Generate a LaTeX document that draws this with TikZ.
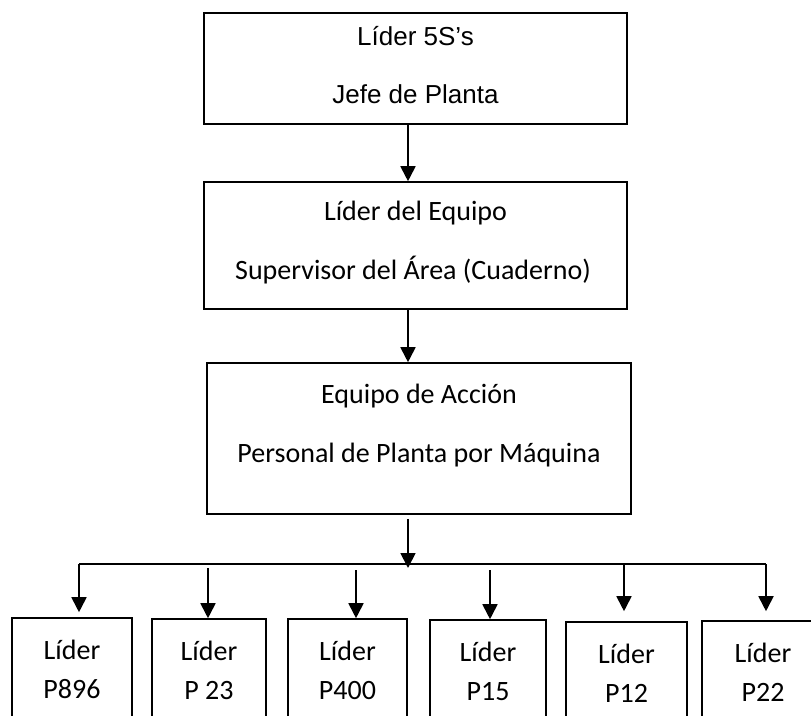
\documentclass[tikz,border=0pt]{standalone}
\usepackage{fontspec}
\newfontfamily\arialf{Liberation Sans}
\newfontfamily\calf{Carlito}
\usetikzlibrary{arrows.meta,calc}
\begin{document}
\begin{tikzpicture}[x=1pt,y=-1pt,
  chartbox/.style={draw, line width=1.6pt, inner sep=0pt, rectangle},
  arialtxt/.style={anchor=base, inner sep=0pt, font=\arialf\fontsize{26}{30}\selectfont},
  caltxt/.style={anchor=base, inner sep=0pt, font=\calf\fontsize{28}{32}\selectfont},
  wire/.style={line width=1.8pt},
  arr/.style={wire, -{Triangle[length=15pt,width=15pt]}}
]
\useasboundingbox (0,0) rectangle (811,715);

% --- main chain of command ---
\node[chartbox, minimum width=423pt, minimum height=111pt] (jefe) at (415.5,68.5) {};
\node[arialtxt] (jefeA) at (415.5,45) {Líder 5S’s};
\node[arialtxt] (jefeB) at (415.5,103) {Jefe de Planta};

\node[chartbox, minimum width=423pt, minimum height=127pt] (sup) at (415.5,245.5) {};
\node[caltxt] (supA) at (415.5,220) {Líder del Equipo};
\node[caltxt] (supB) at (413,279) {Supervisor del Área (Cuaderno)};

\node[chartbox, minimum width=424pt, minimum height=151pt] (acc) at (419,438.5) {};
\node[caltxt] (accA) at (419,403) {Equipo de Acción};
\node[caltxt] (accB) at (419,462) {Personal de Planta por Máquina};

% --- machine leaders ---
\node[chartbox, minimum width=120pt, minimum height=142pt] (m1) at (72,689) {};
\node[chartbox, minimum width=114pt, minimum height=142pt] (m2) at (209,690) {};
\node[chartbox, minimum width=119pt, minimum height=142pt] (m3) at (347.5,690) {};
\node[chartbox, minimum width=116pt, minimum height=142pt] (m4) at (488,691) {};
\node[chartbox, minimum width=121pt, minimum height=142pt] (m5) at (626.5,693) {};
\node[chartbox, minimum width=122pt, minimum height=142pt] (m6) at (763,692) {};

\foreach \b/\code in {m1/P896, m2/P 23, m3/P400, m4/P15, m5/P12, m6/P22}{
  \node[caltxt] (\b A) at ($(\b.north)+(0,42)$) {Líder};
  \node[caltxt] (\b B) at ($(\b.north)+(0,81)$) {\code};
}

% --- connectors ---
\coordinate (spine) at (408,0);
\coordinate (bar) at (408,564);
\draw[arr] (jefe.south -| spine) -- (sup.north -| spine);
\draw[arr] (sup.south -| spine) -- (acc.north -| spine);
\draw[arr] ($(acc.south -| spine)+(0,4)$) -- ($(bar)+(0,4)$);

\coordinate (d1) at (79,564);
\coordinate (d2) at (208,568);
\coordinate (d3) at (356,570);
\coordinate (d4) at (490,570);
\coordinate (d5) at (624,564);
\coordinate (d6) at (766,564);

\draw[wire] (d1) -- (d6);
\draw[arr] (d1) -- ($(d1 |- m1.north)+(0,-5)$);
\draw[arr] (d2) -- (d2 |- m2.north);
\draw[arr] (d3) -- (d3 |- m3.north);
\draw[arr] (d4) -- (d4 |- m4.north);
\draw[arr] (d5) -- ($(d5 |- m5.north)+(0,-10)$);
\draw[arr] (d6) -- ($(d6 |- m6.north)+(0,-9)$);
\end{tikzpicture}
\end{document}
